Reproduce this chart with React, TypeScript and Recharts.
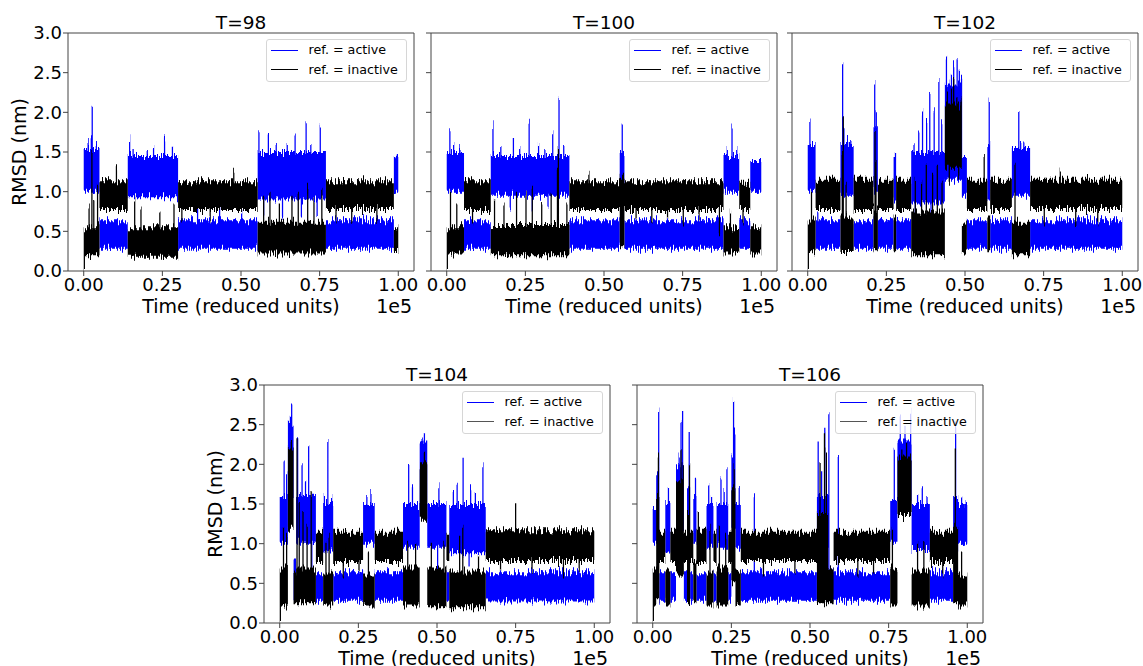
import React from "react";
import { Area, ComposedChart, Label, ReferenceLine, XAxis, YAxis } from "recharts";

// Each trace is a list of bands [start, end, low, high] (time in 1e3 units, RMSD in nm)
// plus short excursions [time, value] that stick out of the band.
type Band = [number, number, number, number];
type Spike = [number, number];

const xTicks = [0, 25000, 50000, 75000, 100000];
const yTicks = [0, 0.5, 1, 1.5, 2, 2.5, 3];
const seriesNames = ["ref. = active", "ref. = inactive"];

// T=98
const t98Active: Band[] = [
  [0, 5, 1.0, 1.55], [5, 14, 0.28, 0.64], [14, 30, 0.93, 1.45], [30, 55.3, 0.28, 0.64],
  [55.3, 77, 0.9, 1.5], [77, 98.6, 0.28, 0.64], [98.6, 100, 1.0, 1.45],
];
const t98ActiveSpikes: Spike[] = [
  [1.2, 1.65], [2.2, 1.7], [2.5, 2.07], [3.8, 1.6], [14.4, 1.66], [15.5, 1.55], [20, 1.5], [22, 1.55],
  [25.5, 1.67], [28, 1.58], [55.5, 1.75], [58.5, 1.72], [61, 1.6], [64.5, 1.6], [67, 1.72], [70.5, 1.85],
  [72, 1.6], [75, 1.82], [36, 0.78], [43, 0.78], [50, 0.75], [99, 1.47], [57, 0.7], [63, 0.65], [69, 0.7],
  [74, 0.72],
];
const t98Inactive: Band[] = [
  [0, 5, 0.2, 0.55], [5, 14, 0.78, 1.13], [14, 30, 0.18, 0.55], [30, 55.3, 0.77, 1.13],
  [55.3, 77, 0.22, 0.62], [77, 98.6, 0.78, 1.13], [98.6, 100, 0.24, 0.55],
];
const t98InactiveSpikes: Spike[] = [
  [0, 0], [1.5, 0.8], [2.4, 1.5], [3, 0.9], [4.2, 1.1], [10.2, 1.32], [16, 0.9], [18, 0.8], [24, 0.75],
  [28.5, 0.85], [47.5, 1.3], [31, 0.6], [40, 0.65], [57, 0.95], [59, 1.0], [62, 0.85], [66, 0.95], [68, 1.0],
  [71, 1.05], [73, 0.9], [75.5, 1.0], [80, 0.6], [85, 0.62], [93, 0.58],
];

// T=100
const t100Active: Band[] = [
  [0, 5.5, 1.0, 1.5], [5.5, 14, 0.28, 0.64], [14, 39, 0.95, 1.45], [39, 55, 0.28, 0.64],
  [55, 56.5, 1.0, 1.5], [56.5, 88, 0.28, 0.64], [88, 93, 1.0, 1.45], [93, 96.5, 0.28, 0.64],
  [96.5, 100, 1.0, 1.4],
];
const t100ActiveSpikes: Spike[] = [
  [0.8, 1.8], [2, 1.6], [4, 1.55], [14.5, 1.85], [17, 1.6], [21, 1.65], [23, 1.55], [26, 1.92], [29, 1.6],
  [31, 1.55], [33.5, 1.75], [35.5, 2.16], [37, 1.6], [55.6, 1.86], [89, 1.55], [90.5, 1.82], [92, 1.55],
  [20, 0.8], [27, 0.75], [32, 0.8],
];
const t100Inactive: Band[] = [
  [0, 5.5, 0.22, 0.55], [5.5, 14, 0.77, 1.13], [14, 39, 0.2, 0.58], [39, 55, 0.77, 1.13],
  [55, 56.5, 0.3, 1.2], [56.5, 88, 0.77, 1.13], [88, 93, 0.22, 0.55], [93, 96.5, 0.77, 1.1],
  [96.5, 100, 0.22, 0.55],
];
const t100InactiveSpikes: Spike[] = [
  [0, 0], [1, 1.0], [3, 0.85], [8, 0.6], [15, 0.9], [18, 0.85], [22, 1.0], [25, 0.95], [27, 1.05],
  [30, 0.85], [33, 1.0], [35, 1.3], [35.3, 1.55], [38, 0.85], [45, 1.25], [60, 0.65], [65, 0.62], [70, 0.65],
  [75, 0.6], [80, 0.65], [86.5, 0.45], [90, 0.75], [94, 0.6],
];

// T=102
const t102Active: Band[] = [
  [0, 2.5, 1.0, 1.6], [2.5, 10.4, 0.28, 0.64], [10.4, 14.6, 0.95, 1.6], [14.6, 20.9, 0.28, 0.64],
  [20.9, 22.3, 1.0, 1.8], [22.3, 27.3, 0.28, 0.64], [27.3, 28.1, 0.9, 1.45], [28.1, 32.9, 0.28, 0.64],
  [32.9, 43.6, 0.85, 1.5], [43.6, 49, 1.15, 2.35], [49, 50.6, 0.95, 1.45], [50.6, 57.1, 0.28, 0.64],
  [57.1, 58, 0.9, 1.6], [58, 64.9, 0.28, 0.64], [64.9, 70.7, 0.95, 1.55], [70.7, 100, 0.28, 0.64],
];
const t102ActiveSpikes: Spike[] = [
  [0.5, 1.91], [10.9, 2.58], [11.3, 1.8], [12.5, 1.65], [13.5, 1.65], [21.1, 2.39], [21.6, 2.0],
  [27.7, 1.5], [33.6, 1.61], [35.1, 1.77], [36.3, 2.01], [37.6, 1.93], [38.6, 2.22], [40, 2.05],
  [41.5, 2.37], [42.4, 1.9], [43.9, 2.69], [44.6, 2.4], [45.5, 2.5], [46.2, 2.62], [47.3, 2.67],
  [48, 2.5], [48.7, 2.41], [57.5, 2.15], [66.9, 2.03], [67.5, 1.65], [68.5, 1.62], [34, 0.65], [39, 0.6],
  [3, 0.75],
];
const t102Inactive: Band[] = [
  [0, 2.5, 0.25, 0.65], [2.5, 10.4, 0.77, 1.15], [10.4, 14.6, 0.24, 0.7], [14.6, 20.9, 0.77, 1.15],
  [20.9, 22.3, 0.26, 0.8], [22.3, 27.3, 0.77, 1.15], [27.3, 28.1, 0.25, 0.7], [28.1, 32.9, 0.77, 1.15],
  [32.9, 43.6, 0.2, 0.75], [43.6, 49, 1.3, 2.1], [49, 50.6, 0.22, 0.6], [50.6, 57.1, 0.77, 1.15],
  [57.1, 58, 0.25, 0.7], [58, 64.9, 0.77, 1.15], [64.9, 70.7, 0.2, 0.62], [70.7, 100, 0.78, 1.15],
];
const t102InactiveSpikes: Spike[] = [
  [0, 0], [1, 1.0], [10.8, 1.5], [11.1, 1.95], [12, 1.1], [21.2, 1.74], [21.5, 1.4], [34, 1.2], [36, 1.1],
  [37.5, 1.3], [39.5, 1.2], [41, 1.3], [42.5, 1.15], [44.2, 2.3], [45.5, 2.35], [46.2, 2.47], [47.2, 2.2],
  [48.5, 2.15], [44.8, 1.1], [47.8, 1.2], [55.9, 1.45], [65.7, 1.34], [80.1, 1.28], [75, 0.6], [85, 0.58],
  [92, 0.6],
];

// T=104
const t104Active: Band[] = [
  [0, 2.6, 1.0, 1.6], [2.6, 4.4, 1.6, 2.5], [4.4, 5.2, 0.3, 0.8], [5.2, 11.5, 1.0, 1.6],
  [11.5, 13.8, 0.28, 0.64], [13.8, 17, 0.9, 1.5], [17, 26.5, 0.28, 0.64], [26.5, 30.2, 1.0, 1.5],
  [30.2, 39.2, 0.28, 0.64], [39.2, 44.5, 0.95, 1.5], [44.5, 46.9, 1.5, 2.3], [46.9, 53, 0.95, 1.5],
  [53, 53.9, 0.28, 0.64], [53.9, 65.5, 0.88, 1.5], [65.5, 100, 0.27, 0.64],
];
const t104ActiveSpikes: Spike[] = [
  [1.2, 2.06], [2, 1.9], [3.2, 2.6], [3.6, 2.78], [4.0, 2.5], [5.5, 2.34], [6.9, 2.0], [8, 1.8],
  [9.0, 2.24], [10.5, 1.63], [14, 1.65], [15.1, 2.32], [16.3, 1.6], [27.5, 1.6], [28.8, 1.65],
  [40.8, 2.03], [42, 1.7], [45.3, 2.35], [45.8, 2.43], [46.4, 2.3], [50.4, 1.75], [55, 1.65], [56.2, 1.78],
  [58.1, 2.07], [60.5, 1.7], [62, 1.65], [64.4, 1.99], [4.8, 0.3], [10, 0.7], [50, 0.7], [60, 0.7],
];
const t104Inactive: Band[] = [
  [0, 2.6, 0.22, 0.7], [2.6, 4.4, 1.2, 2.2], [4.4, 5.2, 0.25, 0.6], [5.2, 11.5, 0.25, 0.7],
  [11.5, 13.8, 0.78, 1.15], [13.8, 17, 0.22, 0.65], [17, 26.5, 0.77, 1.15], [26.5, 30.2, 0.22, 0.6],
  [30.2, 39.2, 0.77, 1.15], [39.2, 44.5, 0.22, 0.7], [44.5, 46.9, 1.3, 2.0], [46.9, 53, 0.2, 0.7],
  [53, 53.9, 0.77, 1.15], [53.9, 65.5, 0.2, 0.65], [65.5, 100, 0.78, 1.17],
];
const t104InactiveSpikes: Spike[] = [
  [0, 0], [1, 1.2], [2, 1.1], [3.5, 2.28], [5.3, 2.33], [6, 1.5], [7.2, 1.4], [8.5, 1.2], [9.8, 1.66],
  [14.5, 1.0], [15.5, 1.1], [20, 0.6], [25, 0.65], [28, 0.9], [40.5, 1.0], [43, 1.0], [45.8, 2.16],
  [48, 1.0], [52, 1.0], [57, 1.1], [58, 1.2], [63, 0.85], [74.8, 1.51], [70, 0.65], [80, 0.62], [90, 0.6],
  [95, 0.65],
];

// T=106
const t106Active: Band[] = [
  [0, 1.1, 1.0, 1.45], [1.1, 2.1, 1.0, 1.9], [2.1, 4, 0.28, 0.64], [4, 5.6, 0.9, 1.5],
  [5.6, 7.4, 0.28, 0.64], [7.4, 9.9, 1.2, 2.0], [9.9, 10.9, 0.28, 0.64], [10.9, 11.9, 1.0, 1.7],
  [11.9, 12.9, 0.28, 0.64], [12.9, 13.9, 1.0, 1.6], [13.9, 17.1, 0.28, 0.64], [17.1, 19.3, 0.95, 1.5],
  [19.3, 20.3, 0.28, 0.64], [20.3, 24, 0.95, 1.5], [24, 25, 0.28, 0.64], [25, 26.3, 1.2, 2.1],
  [26.3, 28, 0.95, 1.5], [28, 52.2, 0.28, 0.64], [52.2, 55.8, 0.95, 1.6], [55.8, 57.5, 0.3, 0.7],
  [57.5, 75.5, 0.28, 0.64], [75.5, 77.8, 1.0, 1.55], [77.8, 82.3, 1.5, 2.3], [82.3, 88.1, 0.92, 1.5],
  [88.1, 95.5, 0.28, 0.64], [95.5, 97.1, 0.9, 1.6], [97.1, 100, 1.0, 1.5],
];
const t106ActiveSpikes: Spike[] = [
  [1.7, 2.69], [4.8, 1.69], [5.2, 1.55], [8.2, 2.1], [8.8, 2.55], [9.3, 2.66], [11.4, 2.37], [13.4, 1.83],
  [17.6, 1.72], [18.5, 1.6], [21.5, 1.81], [22.5, 1.65], [23.4, 1.95], [25.5, 2.81], [25.9, 2.4],
  [27.3, 1.69], [32.1, 1.61], [52.4, 2.3], [53.5, 1.9], [54.5, 2.45], [55.8, 2.63], [58.8, 2.13],
  [76.6, 2.21], [78.5, 2.64], [80, 2.45], [81.8, 2.7], [84, 1.6], [85.5, 1.71], [87, 1.6], [96.1, 2.49],
  [98, 1.57], [99, 1.55],
];
const t106Inactive: Band[] = [
  [0, 1.1, 0.22, 0.7], [1.1, 2.1, 0.3, 1.6], [2.1, 4, 0.77, 1.15], [4, 5.6, 0.22, 0.65],
  [5.6, 7.4, 0.77, 1.15], [7.4, 9.9, 0.6, 1.8], [9.9, 10.9, 0.77, 1.15], [10.9, 11.9, 0.25, 1.4],
  [11.9, 12.9, 0.77, 1.15], [12.9, 13.9, 0.25, 0.8], [13.9, 17.1, 0.77, 1.15], [17.1, 19.3, 0.22, 0.65],
  [19.3, 20.3, 0.77, 1.15], [20.3, 24, 0.22, 0.7], [24, 25, 0.77, 1.15], [25, 26.3, 0.5, 1.7],
  [26.3, 28, 0.22, 0.65], [28, 52.2, 0.78, 1.15], [52.2, 55.8, 0.25, 1.4], [55.8, 57.5, 0.25, 0.7],
  [57.5, 75.5, 0.78, 1.15], [75.5, 77.8, 0.22, 0.7], [77.8, 82.3, 1.35, 2.1], [82.3, 88.1, 0.22, 0.65],
  [88.1, 95.5, 0.77, 1.15], [95.5, 97.1, 0.25, 1.2], [97.1, 100, 0.22, 0.6],
];
const t106InactiveSpikes: Spike[] = [
  [0, 0], [1.6, 2.11], [8.8, 2.19], [9.5, 2.0], [11.5, 2.0], [14.3, 1.4], [18, 1.2], [21, 1.2], [23, 1.1],
  [25.7, 2.0], [53, 2.0], [54.4, 2.38], [55, 2.2], [76, 1.2], [79, 2.2], [80.5, 2.28], [81.5, 2.1],
  [96, 2.2], [84, 1.0], [86, 1.05], [35, 0.6], [45, 0.62], [65, 0.6], [70, 0.6], [92, 0.6], [98, 0.9],
];

const SPIKE_WIDTH = 0.4;
const spikeEnd = (t: number) => Math.round((t + SPIKE_WIDTH) * 100) / 100;

function rangeAt(bands: Band[], spikes: Spike[], t: number): [number, number] {
  const band = bands.find(([a, b]) => t >= a && t < b) ?? bands[bands.length - 1];
  let lo = band[2];
  let hi = band[3];
  for (const [ts, v] of spikes) {
    if (t >= ts && t < spikeEnd(ts)) {
      lo = Math.min(lo, v);
      hi = Math.max(hi, v);
    }
  }
  return [lo, hi];
}

function buildRows(active: Band[], activeSpikes: Spike[], inactive: Band[], inactiveSpikes: Spike[]) {
  const edges = new Set<number>();
  [...active, ...inactive].forEach(([a, b]) => {
    edges.add(a);
    edges.add(b);
  });
  [...activeSpikes, ...inactiveSpikes].forEach(([t]) => {
    edges.add(t);
    edges.add(spikeEnd(t));
  });
  return [...edges]
    .filter((t) => t <= 100)
    .sort((a, b) => a - b)
    .map((t) => ({
      t: t * 1000,
      active: rangeAt(active, activeSpikes, t),
      inactive: rangeAt(inactive, inactiveSpikes, t),
    }));
}

const panels = [
  { title: "T=98", rows: buildRows(t98Active, t98ActiveSpikes, t98Inactive, t98InactiveSpikes), left: 0, top: 0, yLabel: true, handle: "#000" },
  { title: "T=100", rows: buildRows(t100Active, t100ActiveSpikes, t100Inactive, t100InactiveSpikes), left: 363, top: 0, yLabel: false, handle: "#000" },
  { title: "T=102", rows: buildRows(t102Active, t102ActiveSpikes, t102Inactive, t102InactiveSpikes), left: 724, top: 0, yLabel: false, handle: "#000" },
  { title: "T=104", rows: buildRows(t104Active, t104ActiveSpikes, t104Inactive, t104InactiveSpikes), left: 196, top: 352, yLabel: true, handle: "#555" },
  { title: "T=106", rows: buildRows(t106Active, t106ActiveSpikes, t106Inactive, t106InactiveSpikes), left: 569, top: 352, yLabel: false, handle: "#555" },
];

const W = 418;
const H = 321;
const AXIS = "#444";
const textStyle = { fontSize: 19, fill: "#000" };

// frame-to-frame jitter of the trajectories: columns of the filled bands are
// shifted up/down by a few pixels so the edges read as a noisy trace
const TraceTexture = () => (
  <svg width={0} height={0} style={{ position: "absolute" }}>
    <defs>
      <filter id="trace-jitter" x="-2%" y="-15%" width="104%" height="130%">
        <feTurbulence type="fractalNoise" baseFrequency="0.85 0.02" numOctaves={2} seed={7} result="noise" />
        <feColorMatrix
          in="noise"
          type="matrix"
          values="0 0 0 0 0.5  0 1 0 0 0  0 0 0 0 0  0 0 0 0 1"
          result="shift"
        />
        <feDisplacementMap in="SourceGraphic" in2="shift" scale={18} xChannelSelector="R" yChannelSelector="G" />
      </filter>
    </defs>
  </svg>
);

const PanelLegend = ({ handle }: { handle: string }) => (
  <div
    style={{
      position: "absolute",
      left: 266,
      top: 39,
      width: 141,
      height: 43,
      boxSizing: "border-box",
      border: "1px solid #d6d6d6",
      borderRadius: 3,
      background: "rgba(255,255,255,0.8)",
      fontSize: 12.7,
      color: "#000",
    }}
  >
    {seriesNames.map((name, i) => (
      <div key={name} style={{ position: "absolute", left: 0, top: 2.4 + i * 19.3, height: 16, display: "flex", alignItems: "center" }}>
        <span style={{ display: "inline-block", marginLeft: 4, width: 27, borderTop: `1.5px solid ${i === 0 ? "#0000ff" : handle}` }} />
        <span style={{ marginLeft: 10.6, lineHeight: "16px", whiteSpace: "nowrap" }}>{name}</span>
      </div>
    ))}
  </div>
);

const Panel = ({ title, rows, left, top, yLabel, handle }: (typeof panels)[number]) => (
  <div className="rmsd-panel" style={{ position: "absolute", left, top, width: W, height: H }}>
    <ComposedChart width={W} height={H} data={rows} margin={{ top: 33, right: 4, bottom: 0, left: 8 }}>
      <XAxis
        dataKey="t"
        type="number"
        domain={[-5000, 105000]}
        allowDataOverflow
        ticks={xTicks}
        interval={0}
        tickFormatter={(v) => (v / 1e5).toFixed(2)}
        height={50}
        tickSize={5}
        tickMargin={2}
        stroke={AXIS}
        tick={{ fontSize: 18, fill: "#000" }}
      >
        <Label value="Time (reduced units)" position="insideBottom" offset={8} fill="#000" style={textStyle} />
        <Label value="1e5" position="insideBottomRight" offset={8} dx={6} fill="#000" style={textStyle} />
      </XAxis>
      <YAxis
        type="number"
        domain={[0, 3]}
        allowDataOverflow
        ticks={yTicks}
        interval={0}
        width={60}
        tickSize={5}
        tickMargin={1}
        stroke={AXIS}
        tick={{ fontSize: 18, fill: "#000" }}
        tickFormatter={(v) => (yLabel ? v.toFixed(1) : "")}
      >
        {yLabel && (
          <Label
            value="RMSD (nm)"
            angle={-90}
            position="insideLeft"
            offset={11}
            fill="#000"
            style={{ ...textStyle, textAnchor: "middle" }}
          />
        )}
      </YAxis>
      <Area
        type="stepAfter"
        dataKey="active"
        stroke="none"
        fill="#0000ff"
        fillOpacity={1}
        dot={false}
        activeDot={false}
        isAnimationActive={false}
      />
      <Area
        type="stepAfter"
        dataKey="inactive"
        stroke="none"
        fill="#000000"
        fillOpacity={1}
        dot={false}
        activeDot={false}
        isAnimationActive={false}
      />
      <ReferenceLine
        y={3}
        stroke={AXIS}
        label={{ value: title, position: "top", offset: 4, fill: "#000", style: { fontSize: 18.5, fill: "#000" } }}
      />
      <ReferenceLine x={105000} stroke={AXIS} />
    </ComposedChart>
    <PanelLegend handle={handle} />
  </div>
);

export default function App() {
  return (
    <div
      style={{
        position: "absolute",
        left: 0,
        top: 0,
        width: 1143,
        height: 666,
        overflow: "hidden",
        background: "#fff",
        fontFamily: "'DejaVu Sans', sans-serif",
      }}
    >
      <style>{".rmsd-panel .recharts-area-area { filter: url(#trace-jitter); }"}</style>
      <TraceTexture />
      {panels.map((p) => (
        <Panel key={p.title} {...p} />
      ))}
    </div>
  );
}
